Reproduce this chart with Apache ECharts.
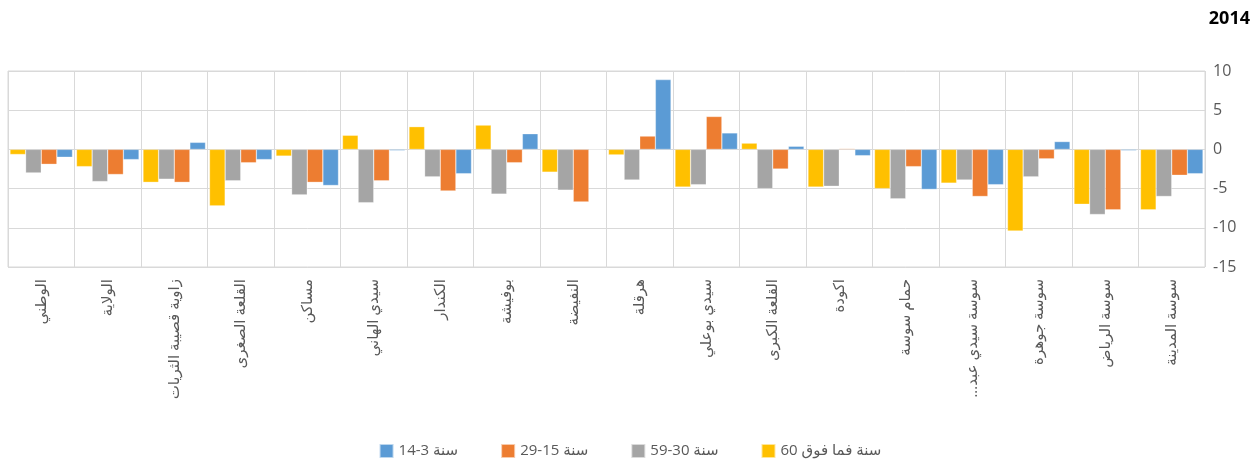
<!DOCTYPE html>
<html>
<head>
<meta charset="utf-8">
<script src="https://cdn.jsdelivr.net/npm/echarts@6/dist/echarts.min.js"></script>
<style>
  html, body { margin: 0; padding: 0; background: #fff; }
  #chart { width: 1260px; height: 464px; }
</style>
</head>
<body>
<div id="chart"></div>
<script>
// categories listed from right to left (axis is inverted)
const categories = [
  "سوسة المدينة", "سوسة الرياض", "سوسة جوهرة", "...سوسة سيدي عبد",
  "حمام سوسة", "اكودة", "القلعة الكبرى", "سيدي بوعلي", "هرقلة",
  "النفيضة", "بوفيشة", "الكندار", "سيدي الهاني", "مساكن",
  "القلعة الصغرى", "زاوية قصيبة الثريات", "الولاية", "الوطني"
];
const age3to14 = [-3.1, -0.15, 1.0, -4.5, -5.1, -0.8, 0.4, 2.1, 8.9, 0, 2.0, -3.1, -0.15, -4.6, -1.3, 0.9, -1.3, -1.0];
const age15to29 = [-3.3, -7.7, -1.2, -6.0, -2.2, 0.1, -2.5, 4.2, 1.7, -6.7, -1.7, -5.3, -4.0, -4.2, -1.7, -4.2, -3.2, -1.9];
const age30to59 = [-6.0, -8.3, -3.5, -3.9, -6.3, -4.7, -5.0, -4.5, -3.9, -5.2, -5.7, -3.5, -6.8, -5.8, -4.0, -3.8, -4.1, -3.0];
const age60plus = [-7.7, -7.0, -10.4, -4.3, -5.0, -4.8, 0.8, -4.8, -0.7, -2.9, 3.1, 2.9, 1.8, -0.85, -7.2, -4.2, -2.2, -0.65];

const names = ["14-3 سنة", "29-15 سنة", "59-30 سنة", "60 سنة فما فوق"];

const chart = echarts.init(document.getElementById("chart"));

const barStyle = (color) => ({
  color: color,
  borderColor: "rgba(255,255,255,0.6)",
  borderWidth: 0.5,
});

chart.setOption({
  animation: false,
  textStyle: { fontFamily: "'Open Sans', 'DejaVu Sans', sans-serif" },
  title: {
    text: "2014",
    right: 5,
    top: 5,
    textStyle: { fontSize: 18, fontWeight: "bold", color: "#000" },
  },
  legend: {
    bottom: 0,
    left: "center",
    itemWidth: 14,
    itemHeight: 14,
    itemGap: 42,
    icon: "rect",
    data: names,
    textStyle: { color: "#595959", fontSize: 15 },
  },
  grid: {
    left: 8,
    right: 55,
    top: 71,
    bottom: 197,
    show: true,
    borderColor: "#d9d9d9",
    borderWidth: 1,
  },
  xAxis: {
    type: "category",
    data: categories,
    inverse: true,
    axisLine: { show: false },
    axisTick: { show: false },
    splitLine: {
      show: true,
      interval: 0,
      lineStyle: { color: "#d9d9d9", width: 1 },
    },
    axisLabel: {
      interval: 0,
      rotate: 90,
      margin: 12,
      color: "#595959",
      fontSize: 15,
    },
  },
  yAxis: {
    type: "value",
    position: "right",
    min: -15,
    max: 10,
    interval: 5,
    axisLine: { show: false },
    axisTick: { show: false },
    axisLabel: { color: "#595959", fontSize: 16, margin: 8 },
    splitLine: { lineStyle: { color: "#d9d9d9", width: 1 } },
  },
  series: [
    {
      name: names[3],
      type: "bar",
      data: age60plus,
      itemStyle: barStyle("#FFC000"),
      barGap: "0%",
      barCategoryGap: "6%",
    },
    {
      name: names[2],
      type: "bar",
      data: age30to59,
      itemStyle: barStyle("#A5A5A5"),
    },
    {
      name: names[1],
      type: "bar",
      data: age15to29,
      itemStyle: barStyle("#ED7D31"),
    },
    {
      name: names[0],
      type: "bar",
      data: age3to14,
      itemStyle: barStyle("#5B9BD5"),
    },
  ],
});
</script>
</body>
</html>
